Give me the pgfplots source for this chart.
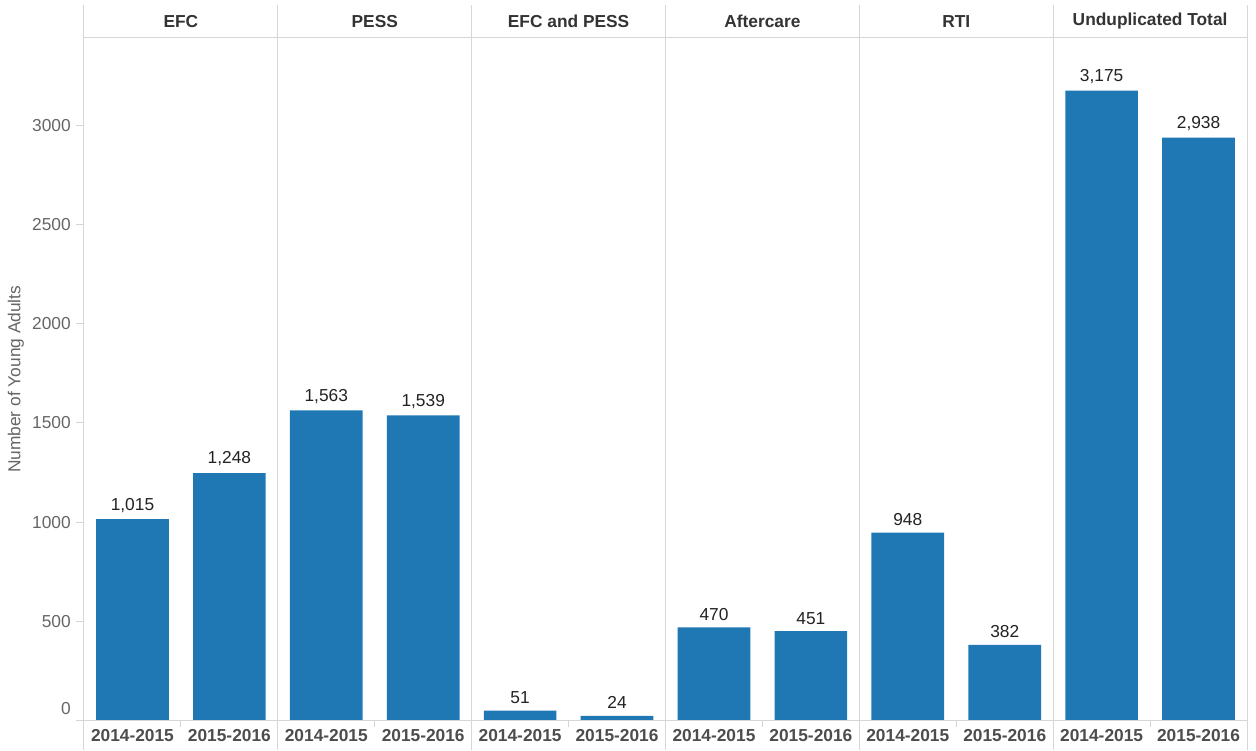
\documentclass[border=0pt]{standalone}
\usepackage{pgfplots}
\pgfplotsset{compat=1.18}
\usepackage{fontspec}
\setmainfont{Liberation Sans}
\definecolor{barblue}{HTML}{1F77B4}
\definecolor{linegray}{HTML}{D6D6D6}
\definecolor{ticktext}{HTML}{666666}
\definecolor{headtext}{HTML}{333333}
\definecolor{labtext}{HTML}{4D4D4D}
\definecolor{valtext}{HTML}{222222}
\begin{document}
\begin{tikzpicture}
\fontsize{13}{15.6}\selectfont
\useasboundingbox (-63pt,-22pt) rectangle (879pt,540.5pt);
\begin{axis}[
  at={(0,0)}, anchor=south west,
  scale only axis, width=872.25pt, height=512pt,
  xmin=-0.5, xmax=11.5, ymin=0, ymax=3440,
  axis line style={draw=none},
  clip=false,
  ybar, bar width=0.75, bar shift=0pt,
  xtick={0,...,11},
  xtick pos=bottom, ytick pos=left,
  xticklabels={2014-2015,2015-2016,2014-2015,2015-2016,2014-2015,2015-2016,2014-2015,2015-2016,2014-2015,2015-2016,2014-2015,2015-2016},
  xticklabel style={font=\bfseries\fontsize{13}{15.6}\selectfont, text=labtext, anchor=center, inner sep=0pt, yshift=-5.45pt},
  x tick style={draw=none},
  ytick={500,1000,...,3000},
  extra y ticks={0},
  extra y tick style={yticklabel style={yshift=9pt}},
  y tick style={linegray, line width=0.75pt},
  major tick length=6pt,
  tick align=outside,
  yticklabel style={font=\fontsize{13}{15.6}\selectfont, text=ticktext, inner sep=0pt, xshift=-3.75pt},
  /pgf/number format/assume math mode=true,
  /pgf/number format/1000 sep={},
  ylabel={Number of Young Adults},
  every axis y label/.style={at={(rel axis cs:0,0.5)}, xshift=-51pt, rotate=90, anchor=center, font=\fontsize{13}{15.6}\selectfont, text=ticktext},
  nodes near coords={\pgfmathprintnumber[1000 sep={,}]{\pgfplotspointmeta}},
  every node near coord/.append style={font=\fontsize{13}{15.6}\selectfont, text=valtext, inner sep=5pt},
]
\addplot[fill=barblue, draw=none] coordinates {
 (0,1015) (1,1248) (2,1563) (3,1539) (4,51) (5,24)
 (6,470) (7,451) (8,948) (9,382) (10,3175) (11,2938)};
% frame lines
\draw[linegray, line width=0.75pt] ([xshift=-6pt]axis cs:-0.5,0) -- (axis cs:11.5,0);
\draw[linegray, line width=0.75pt] (axis cs:-0.5,3440) -- (axis cs:11.5,3440);
\pgfplotsinvokeforeach{-0.5,1.5,3.5,5.5,7.5,9.5,11.5}{
  \draw[linegray, line width=0.75pt] ([yshift=-22pt]axis cs:#1,0) -- ([yshift=24.75pt]axis cs:#1,3440);
}
\pgfplotsinvokeforeach{0.5,2.5,4.5,6.5,8.5,10.5}{
  \draw[linegray, line width=0.75pt] (axis cs:#1,0) -- ([yshift=-5pt]axis cs:#1,0);
}
% panel headers
\node[font=\bfseries\fontsize{13}{15.6}\selectfont, text=headtext] at ([yshift=12.4pt]axis cs:0.5,3440) {EFC};
\node[font=\bfseries\fontsize{13}{15.6}\selectfont, text=headtext] at ([yshift=12.4pt]axis cs:2.5,3440) {PESS};
\node[font=\bfseries\fontsize{13}{15.6}\selectfont, text=headtext] at ([yshift=12.4pt]axis cs:4.5,3440) {EFC and PESS};
\node[font=\bfseries\fontsize{13}{15.6}\selectfont, text=headtext] at ([yshift=12.4pt]axis cs:6.5,3440) {Aftercare};
\node[font=\bfseries\fontsize{13}{15.6}\selectfont, text=headtext] at ([yshift=12.4pt]axis cs:8.5,3440) {RTI};
\node[font=\bfseries\fontsize{13}{15.6}\selectfont, text=headtext] at ([yshift=12.4pt]axis cs:10.5,3440) {Unduplicated Total};
\end{axis}
\end{tikzpicture}
\end{document}
